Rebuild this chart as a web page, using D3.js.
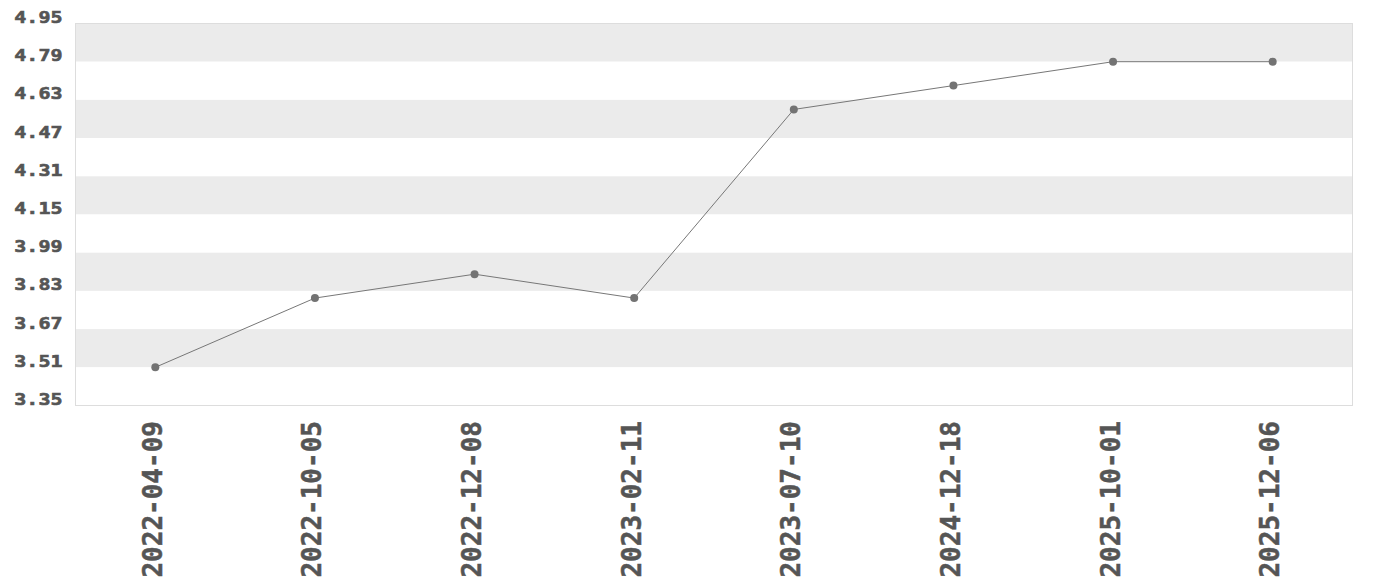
<!DOCTYPE html>
<html>
<head>
<meta charset="utf-8">
<script src="https://cdn.jsdelivr.net/npm/d3@7"></script>
<style>
  html, body { margin: 0; padding: 0; background: #fff; }
  svg { display: block; }
</style>
</head>
<body>
<svg id="chart" width="1380" height="580"></svg>
<script>
const categories = ["2022-04-09", "2022-10-05", "2022-12-08", "2023-02-11", "2023-07-10", "2024-12-18", "2025-10-01", "2025-12-06"];
const values = [3.51, 3.80, 3.90, 3.80, 4.59, 4.69, 4.79, 4.79];
const yTickLabels = ["3.35", "3.51", "3.67", "3.83", "3.99", "4.15", "4.31", "4.47", "4.63", "4.79", "4.95"];

const svg = d3.select("#chart");
const margin = { left: 75.5, right: 27.5, top: 23.5, bottom: 174.5 };
const W = 1380, H = 580;
const x0 = margin.left, x1 = W - margin.right, y0 = margin.top, y1 = H - margin.bottom;

const yTicks = yTickLabels.map(Number);
const y = d3.scaleLinear().domain([yTicks[0], yTicks[yTicks.length - 1]]).range([y1, y0]);
const x = d3.scalePoint().domain(categories).range([x0, x1]).padding(0.5);

const textColor = "#555";
const font = "'DejaVu Sans Mono', monospace";

// bands
const bands = d3.pairs(yTicks).reverse();
svg.append("g").selectAll("rect").data(bands).join("rect")
  .attr("x", x0).attr("width", x1 - x0)
  .attr("y", d => y(d[1])).attr("height", d => y(d[0]) - y(d[1]))
  .attr("fill", (d, i) => i % 2 === 0 ? "#ebebeb" : "#ffffff");

// frame
svg.append("rect").attr("x", x0).attr("y", y0).attr("width", x1 - x0).attr("height", y1 - y0)
  .attr("fill", "none").attr("stroke", "#dddddd").attr("stroke-width", 1);

// y axis labels
const yAxis = d3.axisLeft(y).tickValues(yTicks).tickFormat((d, i) => yTickLabels[i]).tickSize(0).tickPadding(0);
const gy = svg.append("g").attr("transform", `translate(${x0},0)`).call(yAxis);
gy.select(".domain").remove();
gy.selectAll(".tick text")
  .attr("x", null).attr("dy", null)
  .attr("transform", "translate(-13,-1) scale(1.25,1)")
  .attr("text-anchor", "end")
  .attr("fill", textColor)
  .attr("stroke", textColor).attr("stroke-width", 0.6)
  .style("font-family", font).style("font-weight", "bold").style("font-size", "16px");

// x axis labels
const xAxis = d3.axisBottom(x).tickSize(0).tickPadding(0);
const gx = svg.append("g").attr("transform", `translate(0,${y1})`).call(xAxis);
gx.select(".domain").remove();
gx.selectAll(".tick text")
  .attr("y", null).attr("dy", null)
  .attr("transform", "translate(6,15.5) rotate(-90)")
  .attr("text-anchor", "end")
  .attr("fill", textColor)
  .attr("stroke", textColor).attr("stroke-width", 0.5)
  .style("font-family", font).style("font-weight", "bold").style("font-size", "26px");

// line
const data = categories.map((c, i) => ({ c, v: values[i] }));
svg.append("path").datum(data)
  .attr("fill", "none").attr("stroke", "#777").attr("stroke-width", 1)
  .attr("d", d3.line().x(d => x(d.c)).y(d => y(d.v)));

svg.append("g").selectAll("circle").data(data).join("circle")
  .attr("cx", d => x(d.c)).attr("cy", d => y(d.v)).attr("r", 4)
  .attr("fill", "#737373");
</script>
</body>
</html>
